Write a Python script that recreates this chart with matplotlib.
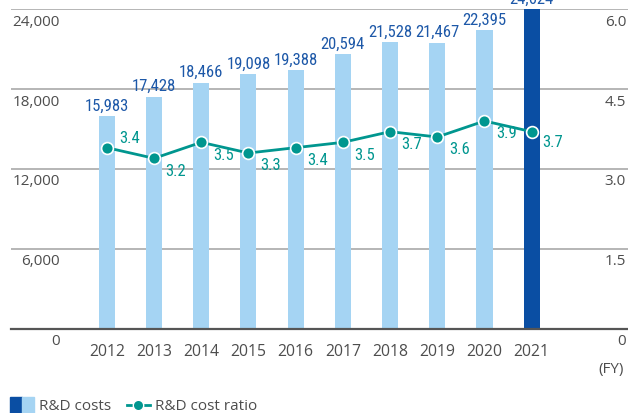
import numpy as np
import matplotlib.pyplot as plt
from matplotlib.patches import Rectangle
from matplotlib.lines import Line2D

years = ['2012', '2013', '2014', '2015', '2016', '2017', '2018', '2019', '2020', '2021']
costs = [15983, 17428, 18466, 19098, 19388, 20594, 21528, 21467, 22395, 24624]
ratio = [3.4, 3.2, 3.5, 3.3, 3.4, 3.5, 3.7, 3.6, 3.9, 3.7]
left_ticks = [0, 6000, 12000, 18000, 24000]
right_ticks = [0, 1.5, 3.0, 4.5, 6.0]

LIGHT = '#a5d4f3'
DARK = '#0a4ea3'
TEAL = '#00968f'
LABEL_BLUE = '#1d58a8'
GREY = '#4d4d4d'
NARROW = ['Roboto Condensed', 'Liberation Sans Narrow', 'Roboto', 'DejaVu Sans']
BASE = ['Open Sans', 'DejaVu Sans']


def main():
    fig = plt.figure(figsize=(6.28, 4.14), dpi=100)
    ax = fig.add_axes([11 / 628, 84 / 414, 617 / 628, 320 / 414])
    ax2 = ax.twinx()

    idx = np.arange(len(years))
    colors = [LIGHT] * (len(years) - 1) + [DARK]
    ax.bar(idx, costs, 0.34, color=colors, zorder=2)
    ax.set_xlim(-2.03, 11.04)
    ax.set_ylim(0, 24000)
    ax2.set_ylim(0, 6)

    for s in ax.spines.values():
        s.set_visible(False)
    for s in ax2.spines.values():
        s.set_visible(False)
    ax.set_xticks([])
    ax.set_yticks([])
    ax2.set_yticks([])

    # grid lines and left/right labels
    for v in left_ticks:
        if v == 0:
            ax.axhline(v, color='#555555', lw=1.6, zorder=3, clip_on=False)
        else:
            ax.axhline(v, color='#b0b0b0', lw=1.3, zorder=1)
        ax.annotate(f'{v:,}', (-0.99, v), xytext=(0, -12),
                    textcoords='offset pixels', ha='right', va='center',
                    fontsize=11, color=GREY, family=BASE, annotation_clip=False)
    for v in right_ticks:
        lab = '0' if v == 0 else f'{v:.1f}'
        ax2.annotate(lab, (1.0, v), xycoords=('axes fraction', 'data'),
                     xytext=(-2, -12), textcoords='offset pixels',
                     ha='right', va='center', fontsize=11, color=GREY,
                     family=BASE, annotation_clip=False)

    for i, y in enumerate(years):
        ax.annotate(y, (i, 0), xytext=(0, -22), textcoords='offset pixels',
                    ha='center', va='center', fontsize=11.3, color=GREY,
                    family=BASE, annotation_clip=False)
    ax.annotate('(FY)', (1.0, 0), xycoords=('axes fraction', 'data'),
                xytext=(-4, -40), textcoords='offset pixels', ha='right',
                va='center', fontsize=11, color=GREY, family=BASE,
                annotation_clip=False)

    # bar value labels (the 2021 bar runs past the top of the axis)
    for i, c in enumerate(costs):
        ax.annotate(f'{c:,}', (i, min(c, 24000)), xytext=(0, 11),
                    textcoords='offset pixels', ha='center', va='center',
                    fontsize=12, color=LABEL_BLUE, family=NARROW,
                    annotation_clip=False)

    # ratio line
    ax2.plot(idx, ratio, color=TEAL, lw=2, marker='o', markersize=8.5,
             markerfacecolor=TEAL, markeredgecolor='white', markeredgewidth=1.2,
             zorder=5, clip_on=False)
    for i, r in enumerate(ratio):
        if i == 0:
            dx, dy = 23, 10
        elif i == len(ratio) - 1:
            dx, dy = 21, -10
        else:
            dx, dy = 22, -12
        ax2.annotate(f'{r:.1f}', (i, r), xytext=(dx, dy), textcoords='offset pixels',
                     ha='center', va='center', fontsize=12, color=TEAL,
                     family=NARROW, annotation_clip=False)

    # legend
    fig.patches.append(Rectangle((10 / 628, 0), 12 / 628, 16 / 414,
                                 transform=fig.transFigure, color=DARK, figure=fig))
    fig.patches.append(Rectangle((22 / 628, 0), 12 / 628, 16 / 414,
                                 transform=fig.transFigure, color=LIGHT, figure=fig))
    fig.text(39 / 628, 7 / 414, 'R&D costs', fontsize=11, color=GREY,
             family=BASE, va='center', ha='left')
    fig.lines.append(Line2D([127 / 628, 150 / 628], [8 / 414, 8 / 414],
                            transform=fig.transFigure, color=TEAL, lw=2, figure=fig))
    fig.lines.append(Line2D([138 / 628], [8 / 414], transform=fig.transFigure,
                            color=TEAL, marker='o', markersize=7.5, markeredgecolor='white',
                            markeredgewidth=1, figure=fig))
    fig.text(155 / 628, 7 / 414, 'R&D cost ratio', fontsize=11, color=GREY,
             family=BASE, va='center', ha='left')

    fig.savefig('out.png', dpi=100)


if __name__ == '__main__':
    main()
